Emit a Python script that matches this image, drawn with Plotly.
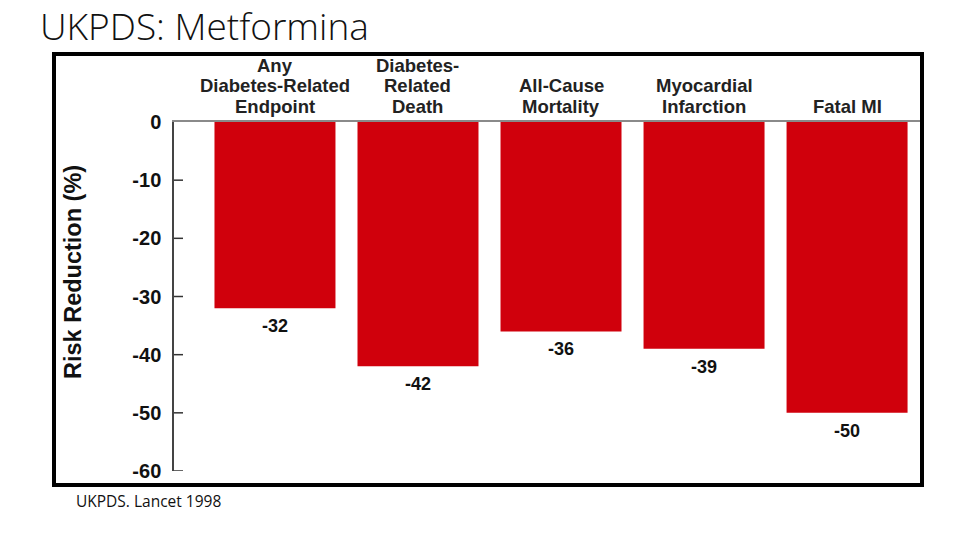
import plotly.graph_objects as go

categories = ["Any<br>Diabetes-Related<br>Endpoint", "Diabetes-<br>Related<br>Death",
              "All-Cause<br>Mortality", "Myocardial<br>Infarction", "Fatal MI"]
risk_reduction = [-32, -42, -36, -39, -50]
y_ticks = [0, -10, -20, -30, -40, -50, -60]
title_text = "UKPDS: Metformina"
source_text = "UKPDS. Lancet 1998"
y_title = "Risk Reduction (%)"

W, H = 960, 540
# target plot area in screen pixels
SX0, SX1, SY0, SY1 = 174, 920, 122, 471
L, R = SX0, W - SX1
T, B = SY0, H - SY1
pw, ph = W - L - R, H - T - B

def px_x(x):
    return (x - SX0) / pw

def px_y(y):
    return (SY1 - y) / ph

fig = go.Figure()
fig.add_trace(go.Bar(
    x=list(range(len(categories))), y=risk_reduction,
    marker=dict(color="#d0000c", line=dict(width=0)),
    hoverinfo="skip",
))

for i, v in enumerate(risk_reduction):
    fig.add_annotation(x=i, y=v, text=str(v), showarrow=False, yshift=-18,
                       yanchor="middle", xanchor="center",
                       font=dict(family="Liberation Sans", size=18, color="#111", weight="bold"))

# category labels above the plot, line by line
for i, cat in enumerate(categories):
    lines = cat.split("<br>")
    n = len(lines)
    for j, line in enumerate(lines):
        k = n - 1 - j  # lines from bottom
        fig.add_annotation(x=i, xref="x", yref="paper", y=px_y(106 - 20.5 * k),
                           text=line, showarrow=False, xanchor="center", yanchor="middle",
                           font=dict(family="Liberation Sans", size=18.5, color="#222", weight="bold"))

# tick marks pointing into the plot
for t in y_ticks[1:]:
    fig.add_shape(type="line", xref="paper", yref="y", xsizemode="pixel", xanchor=0,
                  x0=0, x1=9, y0=t, y1=t, line=dict(color="#333", width=1.5))

# y-axis title
fig.add_annotation(xref="paper", yref="paper", x=px_x(73), y=px_y(272), text=y_title,
                   textangle=-90, showarrow=False, xanchor="center", yanchor="middle",
                   font=dict(family="Liberation Sans", size=23.5, color="#111", weight="bold"))

fig.add_annotation(xref="paper", yref="paper", x=px_x(74), y=px_y(501), text=source_text,
                   showarrow=False, xanchor="left", yanchor="middle",
                   font=dict(family="Open Sans", size=15.5, color="#111"))

fig.add_shape(type="rect", xref="paper", yref="paper",
              x0=px_x(54), x1=px_x(922), y0=px_y(485), y1=px_y(54),
              line=dict(color="black", width=4), fillcolor="rgba(0,0,0,0)")

fig.update_layout(
    width=W, height=H,
    margin=dict(l=L, r=R, t=T, b=B),
    paper_bgcolor="white", plot_bgcolor="white",
    showlegend=False,
    bargap=0.154,
    title=dict(text=title_text, xref="container", yref="container",
               x=40 / W, y=1 - 27 / H, xanchor="left", yanchor="middle",
               font=dict(family="Open Sans", size=37, color="#111", weight=300)),
    xaxis=dict(
        side="top", tickmode="array", tickvals=list(range(len(categories))),
        showticklabels=False, range=[-0.706, 4.51],
        showline=True, linecolor="#8a8a8a", linewidth=2,
        showgrid=False, zeroline=False, ticks="",
        fixedrange=True,
    ),
    yaxis=dict(
        range=[-60, 0], tickmode="array", tickvals=y_ticks,
        ticktext=[str(t) for t in y_ticks],
        showline=True, linecolor="#444", linewidth=1.5,
        ticks="", ticklabelstandoff=7,
        showgrid=False, zeroline=False,
        tickfont=dict(family="Liberation Sans", size=20, color="#111", weight="bold"),
        fixedrange=True,
    ),
)

fig.write_html("out.html", config={"displayModeBar": False},
               post_script="document.body.style.margin='0';")
